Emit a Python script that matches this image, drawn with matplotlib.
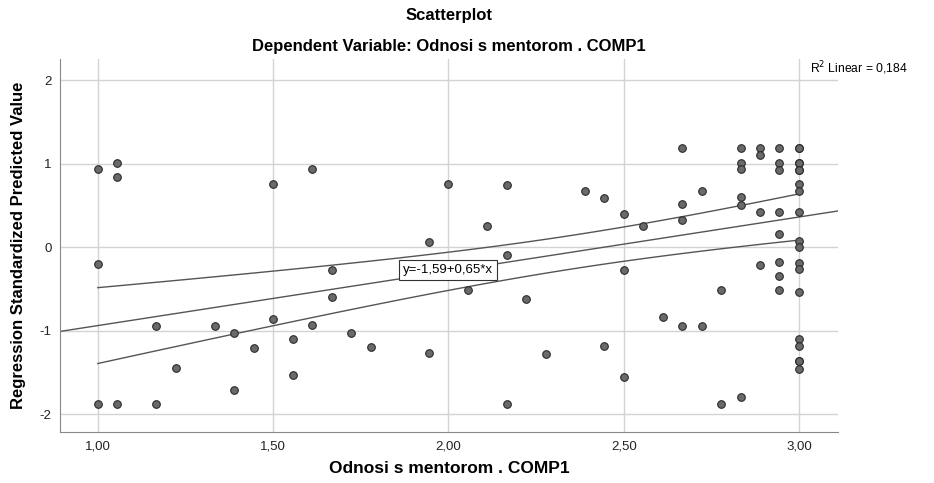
import numpy as np
from matplotlib import pyplot as plt

plt.rcParams['font.family'] = ['Liberation Sans', 'DejaVu Sans']
plt.rcParams['axes.unicode_minus'] = False

# x = Odnosi s mentorom . COMP1, y = Regression Standardized Predicted Value
x_vals = [1.0, 1.0, 1.0,
          1.056, 1.056, 1.056,
          1.167, 1.167,
          1.222,
          1.333,
          1.389, 1.389,
          1.444,
          1.5, 1.5,
          1.556, 1.556,
          1.611, 1.611,
          1.667, 1.667,
          1.722,
          1.778,
          1.944, 1.944,
          2.0,
          2.056,
          2.111,
          2.167, 2.167, 2.167,
          2.222,
          2.278,
          2.389,
          2.444, 2.444,
          2.5, 2.5, 2.5,
          2.556,
          2.611,
          2.667, 2.667, 2.667, 2.667,
          2.722, 2.722,
          2.778, 2.778,
          2.833, 2.833, 2.833, 2.833, 2.833, 2.833,
          2.889, 2.889, 2.889, 2.889,
          2.944, 2.944, 2.944, 2.944, 2.944, 2.944, 2.944, 2.944,
          3.0, 3.0, 3.0, 3.0, 3.0, 3.0, 3.0, 3.0, 3.0, 3.0,
          3.0, 3.0, 3.0, 3.0, 3.0, 3.0, 3.0, 3.0, 3.0]
y_vals = [0.93, -0.20, -1.88,
          1.01, 0.84, -1.88,
          -0.94, -1.88,
          -1.45,
          -0.95,
          -1.03, -1.71,
          -1.21,
          0.76, -0.86,
          -1.10, -1.53,
          0.93, -0.93,
          -0.27, -0.60,
          -1.03,
          -1.20,
          0.06, -1.27,
          0.75,
          -0.52,
          0.25,
          0.74, -0.09, -1.88,
          -0.62,
          -1.28,
          0.67,
          0.59, -1.19,
          0.40, -0.27, -1.55,
          0.25,
          -0.84,
          1.18, 0.51, 0.32, -0.95,
          0.67, -0.94,
          -0.52, -1.88,
          1.18, 1.01, 0.93, 0.60, 0.50, -1.79,
          1.18, 1.10, 0.42, -0.21,
          1.18, 1.01, 0.92, 0.42, 0.16, -0.18, -0.35, -0.52,
          1.18, 1.18, 1.01, 1.01, 0.92, 0.92, 0.76, 0.67, 0.42, 0.07,
          0.00, -0.19, -0.26, -0.54, -1.10, -1.19, -1.37, -1.37, -1.46]

# fit reported on the chart
intercept = -1.59
slope = 0.65

x_ticks = [1.0, 1.5, 2.0, 2.5, 3.0]
x_tick_labels = ['1,00', '1,50', '2,00', '2,50', '3,00']
y_ticks = [-2, -1, 0, 1, 2]
r2_text = 'R$^2$ Linear = 0,184'
eq_text = 'y=-1,59+0,65*x'

x = np.array(x_vals)
y = np.array(y_vals)

# 95% confidence band of the mean around the fit line
n = len(x)
resid = y - (intercept + slope * x)
s = np.sqrt(np.sum(resid ** 2) / (n - 2))
sxx = np.sum((x - x.mean()) ** 2)
t_val = 1.986

fig = plt.figure(figsize=(9.34, 4.83), dpi=100)
ax = fig.add_axes([0.0642, 0.1056, 0.833, 0.772])

xlim = (0.892, 3.111)
ylim = (-2.214, 2.25)

ax.grid(True, color='#d3d3d3', linewidth=1)
ax.set_axisbelow(True)

xx = np.linspace(xlim[0], xlim[1], 50)
ax.plot(xx, intercept + slope * xx, color='#555555', linewidth=1)

xb = np.linspace(x.min(), x.max(), 100)
yb = intercept + slope * xb
half = t_val * s * np.sqrt(1 / n + (xb - x.mean()) ** 2 / sxx)
ax.plot(xb, yb + half, color='#555555', linewidth=1)
ax.plot(xb, yb - half, color='#555555', linewidth=1)

ax.scatter(x, y, s=30, facecolor='#6a6a6a', edgecolor='#2a2a2a', linewidth=0.8, zorder=3)

ax.text(2.0, -0.28, eq_text, ha='center', va='center', fontsize=9.5,
        bbox=dict(boxstyle='square,pad=0.3', facecolor='white', edgecolor='#333333', linewidth=0.8),
        zorder=4)

ax.set_xlim(xlim)
ax.set_ylim(ylim)
ax.set_xticks(x_ticks)
ax.set_xticklabels(x_tick_labels)
ax.set_yticks(y_ticks)
ax.tick_params(length=0, labelsize=9.5, colors='#222222', pad=6)
for side in ['top', 'right']:
    ax.spines[side].set_visible(False)
for side in ['left', 'bottom']:
    ax.spines[side].set_color('#888888')

ax.set_xlabel('Odnosi s mentorom . COMP1', fontsize=12.5, fontweight='bold', labelpad=6)
ax.set_ylabel('Regression Standardized Predicted Value', fontsize=12, fontweight='bold', labelpad=10)

fig.text(0.4807, 0.967, 'Scatterplot', ha='center', va='center', fontsize=12, fontweight='bold')
fig.text(0.4807, 0.903, 'Dependent Variable: Odnosi s mentorom . COMP1', ha='center', va='center',
         fontsize=12, fontweight='bold')
fig.text(0.867, 0.858, r2_text, ha='left', va='center', fontsize=8.7)

fig.savefig('out.png', dpi=100)
